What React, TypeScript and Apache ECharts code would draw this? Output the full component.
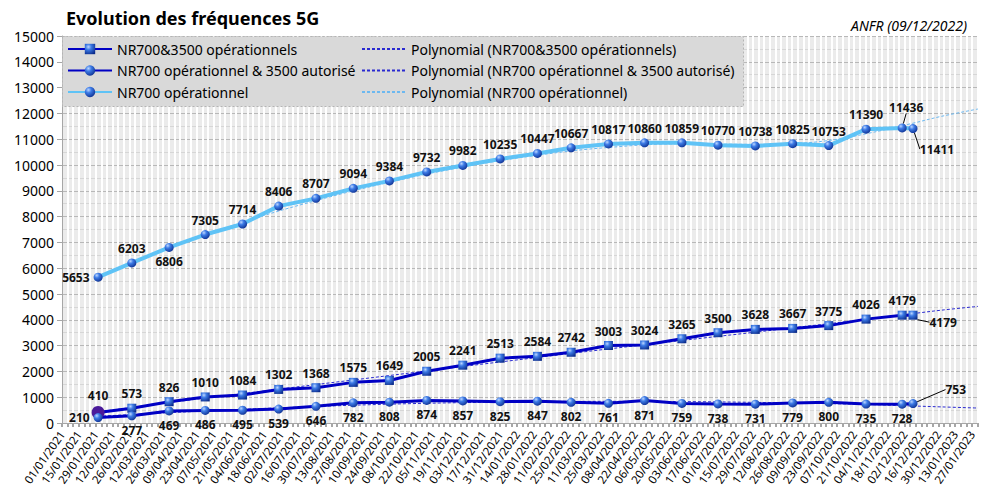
import React, { useEffect, useRef } from "react";
import * as echarts from "echarts";

// Observation dates (end of month, last one on 09/12/2022)
const obsDates = [
  "2021-01-31", "2021-02-28", "2021-03-31", "2021-04-30", "2021-05-31", "2021-06-30",
  "2021-07-31", "2021-08-31", "2021-09-30", "2021-10-31", "2021-11-30", "2021-12-31",
  "2022-01-31", "2022-02-28", "2022-03-31", "2022-04-30", "2022-05-31", "2022-06-30",
  "2022-07-31", "2022-08-31", "2022-09-30", "2022-10-31", "2022-11-30", "2022-12-09",
];

const nr700and3500Op = [
  410, 573, 826, 1010, 1084, 1302, 1368, 1575, 1649, 2005, 2241, 2513,
  2584, 2742, 3003, 3024, 3265, 3500, 3628, 3667, 3775, 4026, 4179, 4179,
];
const nr700OpAnd3500Aut = [
  210, 277, 469, 486, 495, 539, 646, 782, 808, 874, 857, 825,
  847, 802, 761, 871, 759, 738, 731, 779, 800, 735, 728, 753,
];
const nr700Op = [
  5653, 6203, 6806, 7305, 7714, 8406, 8707, 9094, 9384, 9732, 9982, 10235,
  10447, 10667, 10817, 10860, 10859, 10770, 10738, 10825, 10753, 11390, 11436, 11411,
];

// Trend lines
const trendDates = [
  "2021-01-31", "2021-03-31", "2021-05-31", "2021-07-31", "2021-09-30", "2021-11-30",
  "2022-01-31", "2022-03-31", "2022-05-31", "2022-07-31", "2022-08-31", "2022-09-30",
  "2022-10-31", "2022-12-09", "2023-01-01", "2023-02-01",
];
const trendNr700and3500Op = [
  430, 790, 1140, 1490, 1840, 2190, 2540, 2870, 3200, 3520, 3690, 3850, 4020, 4240, 4370, 4520,
];
const trendNr700OpAnd3500Aut = [
  260, 400, 530, 640, 730, 790, 830, 840, 830, 800, 775, 750, 720, 660, 625, 580,
];
const trendNr700Op = [
  5620, 6780, 7780, 8620, 9330, 9920, 10380, 10680, 10820, 10800, 10830, 10950, 11210, 11620, 11880, 12170,
];

const seriesNames = [
  "NR700&3500 opérationnels",
  "NR700 opérationnel & 3500 autorisé",
  "NR700 opérationnel",
];
const trendNames = [
  "Polynomial (NR700&3500 opérationnels)",
  "Polynomial (NR700 opérationnel & 3500 autorisé)",
  "Polynomial (NR700 opérationnel)",
];

const yTicks = { min: 0, max: 15000, step: 1000 };
const axisStart = "2021-01-01";
const axisEnd = "2023-02-01";
const tickDays = 14;

const BASE = Date.UTC(2021, 0, 1);
const toDay = (s: string) => {
  const [y, m, d] = s.split("-").map(Number);
  return Math.round((Date.UTC(y, m - 1, d) - BASE) / 86400000);
};
const fmtDay = (v: number) => {
  const dt = new Date(BASE + v * 86400000);
  const dd = String(dt.getUTCDate()).padStart(2, "0");
  const mm = String(dt.getUTCMonth() + 1).padStart(2, "0");
  return `${dd}/${mm}/${dt.getUTCFullYear()}`;
};

const FONT = "'Noto Sans', 'DejaVu Sans', sans-serif";

export default function App() {
  const ref = useRef<HTMLDivElement>(null);

  useEffect(() => {
    if (!ref.current) return;
    const chart = echarts.init(ref.current, undefined, { renderer: "svg" });

    const sphere = () =>
      new echarts.graphic.RadialGradient(0.35, 0.3, 0.8, [
        { offset: 0, color: "#bcd6ff" },
        { offset: 0.35, color: "#3d7be6" },
        { offset: 1, color: "#0a2a8a" },
      ]);

    const pairs = (vals: number[]) => obsDates.map((d, i) => [toDay(d), vals[i]]);
    const tpairs = (vals: number[]) => trendDates.map((d, i) => [toDay(d), vals[i]]);

    const labelBase = {
      show: true,
      fontFamily: FONT,
      fontSize: 12,
      fontWeight: "bold" as const,
      color: "#111",
      distance: 4,
    };

    const last = obsDates.length - 1;

    const midData = pairs(nr700and3500Op).map((p, i) => {
      const item: any = { value: p };
      if (i === 0) {
        item.symbol = "circle";
        item.symbolSize = 13;
        item.itemStyle = { color: "#4b1a9a" };
      }
      if (i === last) {
        item.label = { position: "right" };
        item.labelLine = { show: true, lineStyle: { color: "#000", width: 1 } };
      }
      return item;
    });

    const lowData = pairs(nr700OpAnd3500Aut).map((p, i) => {
      const item: any = { value: p };
      if (i === 0) item.label = { position: "left" };
      if (i === last) {
        item.label = { position: "right" };
        item.labelLine = { show: true, lineStyle: { color: "#000", width: 1 } };
      }
      return item;
    });

    const topData = pairs(nr700Op).map((p, i) => {
      const item: any = { value: p };
      if (i === 0) item.label = { position: "left" };
      if (i === 2) item.label = { position: "bottom" };
      if (i === last - 1) {
        item.labelLine = { show: true, lineStyle: { color: "#000", width: 1 } };
      }
      if (i === last) {
        item.label = { position: "bottom" };
        item.labelLine = { show: true, lineStyle: { color: "#000", width: 1 } };
      }
      return item;
    });

    const legendText = { fontFamily: FONT, fontSize: 14, color: "#000", lineHeight: 16 };

    const option: any = {
      animation: false,
      backgroundColor: "#ffffff",
      textStyle: { fontFamily: FONT },
      title: [
        {
          text: "Evolution des fréquences 5G",
          left: 66,
          top: 9,
          padding: 0,
          textStyle: { fontFamily: FONT, fontSize: 18, fontWeight: "bold", color: "#000" },
        },
        {
          text: "ANFR (09/12/2022)",
          right: 36,
          top: 18,
          padding: 0,
          textStyle: { fontFamily: FONT, fontSize: 14, fontStyle: "italic", fontWeight: "normal", color: "#000" },
        },
      ],
      graphic: [
        {
          type: "rect",
          left: 62,
          top: 36,
          z: 5,
          shape: { width: 681, height: 70 },
          style: { fill: "#d9d9d9", stroke: "#b4b4b4", lineWidth: 1, lineDash: [2, 2] },
        },
      ],
      legend: [
        {
          data: seriesNames,
          orient: "vertical",
          left: 67,
          top: 41,
          padding: 0,
          itemWidth: 44,
          itemHeight: 13,
          itemGap: 5.5,
          z: 10,
          selectedMode: false,
          textStyle: legendText,
        },
        {
          data: trendNames,
          orient: "vertical",
          left: 361,
          top: 41,
          padding: 0,
          itemWidth: 44,
          itemHeight: 13,
          itemGap: 5.5,
          z: 10,
          selectedMode: false,
          itemStyle: { color: "rgba(0,0,0,0)", borderWidth: 0, opacity: 0 },
          textStyle: legendText,
        },
      ],
      grid: {
        left: 62,
        right: 25,
        top: 36,
        bottom: 76,
        show: true,
        backgroundColor: "#ebebeb",
        borderWidth: 0,
      },
      xAxis: {
        type: "value",
        min: toDay(axisStart),
        max: toDay(axisEnd),
        interval: tickDays,
        axisLine: { show: true, lineStyle: { color: "#a6a6a6", width: 1 } },
        axisTick: { show: true, length: 4, lineStyle: { color: "#a6a6a6", width: 2 } },
        minorTick: { show: true, splitNumber: 3, length: 4, lineStyle: { color: "#a6a6a6", width: 2 } },
        splitLine: { show: true, lineStyle: { color: "#ffffff", width: 2 } },
        minorSplitLine: { show: true, lineStyle: { color: "#ffffff", width: 2 } },
        axisLabel: {
          rotate: 55,
          margin: 9,
          fontFamily: FONT,
          fontSize: 11.5,
          color: "#000",
          showMaxLabel: false,
          formatter: (v: number) => (v % tickDays === 0 ? fmtDay(v) : ""),
        },
      },
      yAxis: {
        type: "value",
        min: yTicks.min,
        max: yTicks.max,
        interval: yTicks.step,
        axisLine: { show: true, lineStyle: { color: "#a6a6a6" } },
        axisTick: { show: true, length: 5, lineStyle: { color: "#a6a6a6" } },
        minorTick: { show: false, splitNumber: 2 },
        splitLine: { show: true, lineStyle: { color: "#b8b8b8", width: 1 } },
        minorSplitLine: { show: true, lineStyle: { color: "#d6d6d6", width: 1 } },
        axisLabel: {
          fontFamily: FONT,
          fontSize: 14,
          color: "#000",
          margin: 8,
          formatter: (v: number) => String(v),
        },
      },
      series: [
        {
          name: trendNames[0],
          type: "line",
          data: tpairs(trendNr700and3500Op),
          smooth: 0.4,
          symbol: "none",
          showSymbol: false,
          silent: true,
          z: 1,
          lineStyle: { color: "#2a2ad0", width: 1, type: [3, 2] },
          itemStyle: { color: "#2a2ad0" },
        },
        {
          name: trendNames[1],
          type: "line",
          data: tpairs(trendNr700OpAnd3500Aut),
          smooth: 0.4,
          symbol: "none",
          showSymbol: false,
          silent: true,
          z: 1,
          lineStyle: { color: "#2a2ad0", width: 1, type: [3, 2] },
          itemStyle: { color: "#2a2ad0" },
        },
        {
          name: trendNames[2],
          type: "line",
          data: tpairs(trendNr700Op),
          smooth: 0.4,
          symbol: "none",
          showSymbol: false,
          silent: true,
          z: 1,
          lineStyle: { color: "#6cb8f0", width: 1, type: [3, 2] },
          itemStyle: { color: "#6cb8f0" },
        },
        {
          name: seriesNames[0],
          type: "line",
          data: midData,
          symbol: "rect",
          symbolSize: 9,
          z: 3,
          lineStyle: { color: "#0000c4", width: 3 },
          itemStyle: { color: sphere(), borderWidth: 0 },
          label: { ...labelBase, position: "top" },
          labelLayout: (p: any) => {
            if (p.dataIndex === last) return { dx: 8, dy: 7 };
            return {};
          },
        },
        {
          name: seriesNames[1],
          type: "line",
          data: lowData,
          symbol: "circle",
          symbolSize: 9,
          z: 3,
          lineStyle: { color: "#0000c4", width: 3 },
          itemStyle: { color: sphere(), borderWidth: 0 },
          label: { ...labelBase, position: "bottom" },
          labelLayout: (p: any) => {
            if (p.dataIndex === last) return { dx: 24, dy: -14 };
            return {};
          },
        },
        {
          name: seriesNames[2],
          type: "line",
          data: topData,
          symbol: "circle",
          symbolSize: 9,
          z: 3,
          lineStyle: { color: "#5fc3f6", width: 4 },
          itemStyle: { color: sphere(), borderWidth: 0 },
          label: { ...labelBase, position: "top" },
          labelLayout: (p: any) => {
            if (p.dataIndex === last) return { dx: 24, dy: 6 };
            if (p.dataIndex === last - 1) return { dx: 4, dy: -6 };
            return {};
          },
        },
      ],
    };

    chart.setOption(option);
    return () => chart.dispose();
  }, []);

  return (
    <div
      ref={ref}
      style={{ position: "fixed", left: 0, top: 0, width: 1003, height: 499, background: "#fff" }}
    />
  );
}
